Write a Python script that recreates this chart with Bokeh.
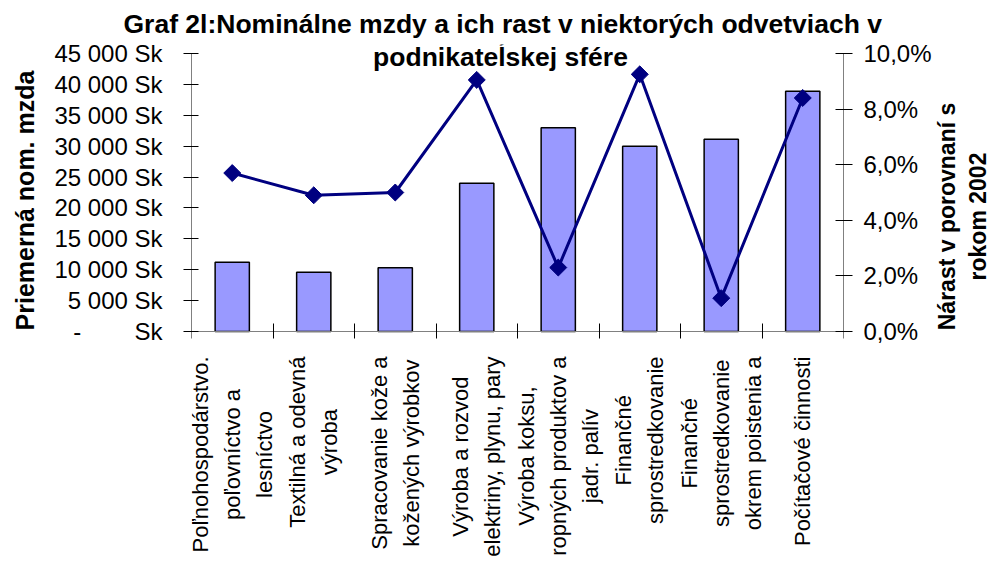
import math
from bokeh.plotting import figure
from bokeh.models import Range1d, LinearAxis, FixedTicker, Label, Title
from bokeh.layouts import row
from bokeh.core.properties import value
from bokeh.embed import file_html
from bokeh.resources import INLINE

# ---- data ----
categories = [
    "Poľnohospodárstvo.\npoľovníctvo a\nlesníctvo",
    "Textilná a odevná\nvýroba",
    "Spracovanie kože a\nkožených výrobkov",
    "Výroba a rozvod\nelektriny, plynu, pary",
    "Výroba koksu,\nropných produktov a\njadr. palív",
    "Finančné\nsprostredkovanie",
    "Finančné\nsprostredkovanie\nokrem poistenia a",
    "Počítačové činnosti",
]
wages = [11200, 9600, 10300, 24000, 33000, 30000, 31100, 38900]
growth = [5.7, 4.9, 5.0, 9.05, 2.3, 9.25, 1.2, 8.4]

wage_ticks = [0, 5000, 10000, 15000, 20000, 25000, 30000, 35000, 40000, 45000]
NB = "\u00a0"
wage_tick_labels = ["-" + NB * 8 + "Sk"] + [
    f"{v:,}".replace(",", NB) + NB + "Sk" for v in wage_ticks[1:]
]
growth_ticks = [0, 2, 4, 6, 8, 10]
growth_tick_labels = ["0,0%", "2,0%", "4,0%", "6,0%", "8,0%", "10,0%"]

title_lines = ["Graf 2l:Nominálne mzdy a ich rast v niektorých odvetviach v",
               "podnikateĺskej sfére"]
left_label = "Priemerná nom. mzda"
right_label = "Nárast v porovnaní s\nrokom 2002"

FONT = "Liberation Sans"
H = 560
FRAME_TOP = 44              # top of the drawing frame (px)
PX_MAX, PX_ZERO = 53, 331   # pixel rows of the axis maximum and of zero
LEFT_W, MAIN_W, RIGHT_W = 45, 890, 56
FRAME_LEFT = 191            # x of the left axis on the page

n = len(categories)
centers = [i + 0.5 for i in range(n)]
boundaries = list(range(n + 1))
wage_max = wage_ticks[-1]
pct_max = growth_ticks[-1]

axis_px = PX_ZERO - PX_MAX
w_per_px = wage_max / axis_px
p_per_px = pct_max / axis_px
wage_range = Range1d(-(H - PX_ZERO) * w_per_px, wage_max + (PX_MAX - FRAME_TOP) * w_per_px)
pct_range = Range1d(-(H - PX_ZERO) * p_per_px, pct_max + (PX_MAX - FRAME_TOP) * p_per_px)

p = figure(width=MAIN_W, height=H, output_backend="svg", toolbar_location=None,
           x_range=Range1d(0, n), y_range=wage_range,
           x_axis_type=None, y_axis_type=None,
           min_border_left=FRAME_LEFT - LEFT_W, min_border_right=MAIN_W - (843 - LEFT_W),
           min_border_top=FRAME_TOP, min_border_bottom=0)
p.extra_y_ranges = {"pct": pct_range}
p.outline_line_color = None
p.background_fill_color = "white"
p.border_fill_color = "white"

AXIS_COLOR = "#808080"

# category axis: line at zero with ticks at the category boundaries
xaxis = LinearAxis(ticker=FixedTicker(ticks=[], minor_ticks=boundaries), fixed_location=0)
xaxis.major_tick_in = 0
xaxis.major_tick_out = 0
xaxis.minor_tick_in = 8
xaxis.minor_tick_out = 7
xaxis.minor_tick_line_color = "black"
xaxis.axis_line_color = AXIS_COLOR
p.add_layout(xaxis, "below")

# left axis (its title is drawn in a side panel)
yaxis = LinearAxis(ticker=FixedTicker(ticks=wage_ticks), bounds=(0, wage_max),
                   major_label_overrides={t: lab for t, lab in zip(wage_ticks, wage_tick_labels)})
yaxis.major_tick_in = 7
yaxis.major_tick_out = 8
yaxis.minor_tick_line_color = None
yaxis.major_tick_line_color = "black"
yaxis.axis_line_color = AXIS_COLOR
yaxis.major_label_standoff = 21
yaxis.major_label_text_font = FONT
yaxis.major_label_text_font_size = "24px"
yaxis.major_label_text_color = "black"
p.add_layout(yaxis, "left")

# right axis (its title is drawn in a side panel)
raxis = LinearAxis(y_range_name="pct", ticker=FixedTicker(ticks=growth_ticks), bounds=(0, pct_max),
                   major_label_overrides={t: lab for t, lab in zip(growth_ticks, growth_tick_labels)})
raxis.major_tick_in = 8
raxis.major_tick_out = 9
raxis.minor_tick_line_color = None
raxis.major_tick_line_color = "black"
raxis.axis_line_color = AXIS_COLOR
raxis.major_label_standoff = 11
raxis.major_label_text_font = FONT
raxis.major_label_text_font_size = "24px"
raxis.major_label_text_color = "black"
p.add_layout(raxis, "right")

# bars
p.vbar(x=centers, top=wages, width=0.42, bottom=0,
       fill_color="#9999FF", line_color="black", line_width=1.5)

# growth line
p.line(x=centers, y=growth, y_range_name="pct", line_color="#000080", line_width=3)
p.scatter(x=centers, y=growth, y_range_name="pct", marker="square", angle=math.pi / 4,
          size=12, fill_color="#000080", line_color="#000080")

# category labels, vertical, lines centred, hanging below the axis
p.text(x=centers, y=[0] * n, text=categories, angle=math.pi / 2,
       anchor=value("center_right"), text_align="center", text_baseline="middle",
       y_offset=25, text_font=value(FONT), text_font_size="22px",
       text_line_height=1.28, text_color="black")

# title: first line above the frame, second line inside the frame top
p.add_layout(Title(text=title_lines[0], align="left", offset=-68, standoff=12,
                   text_font=FONT, text_font_style="bold", text_font_size="26.5px",
                   text_color="black"), "above")
p.add_layout(Label(x=n / 2, y=wage_max, x_offset=-17, y_offset=-3, text=title_lines[1],
                   text_align="center", text_baseline="alphabetic",
                   text_font=FONT, text_font_style="bold", text_font_size="26.5px",
                   text_color="black"))


def side_panel(width):
    f = figure(width=width, height=H, output_backend="svg", toolbar_location=None,
               x_range=Range1d(0, width), y_range=wage_range,
               x_axis_type=None, y_axis_type=None,
               min_border_left=0, min_border_right=0,
               min_border_top=FRAME_TOP, min_border_bottom=0)
    f.outline_line_color = None
    f.background_fill_color = "white"
    f.border_fill_color = "white"
    return f


# left axis title
p0 = side_panel(LEFT_W)
p0.text(x=[24], y=[(PX_ZERO - 200) * w_per_px], text=[left_label], angle=math.pi / 2,
        text_align="center", text_baseline="middle",
        text_font=value(FONT), text_font_style="bold", text_font_size="25px",
        text_color="black")

# right axis title
p2 = side_panel(RIGHT_W)
p2.text(x=[27], y=[(PX_ZERO - 216) * w_per_px], text=[right_label], angle=math.pi / 2,
        text_align="center", text_baseline="middle",
        text_font=value(FONT), text_font_style="bold", text_font_size="23px",
        text_line_height=1.2, text_color="black")

layout = row(p0, p, p2)
open("out.html", "w").write(file_html(layout, INLINE))
